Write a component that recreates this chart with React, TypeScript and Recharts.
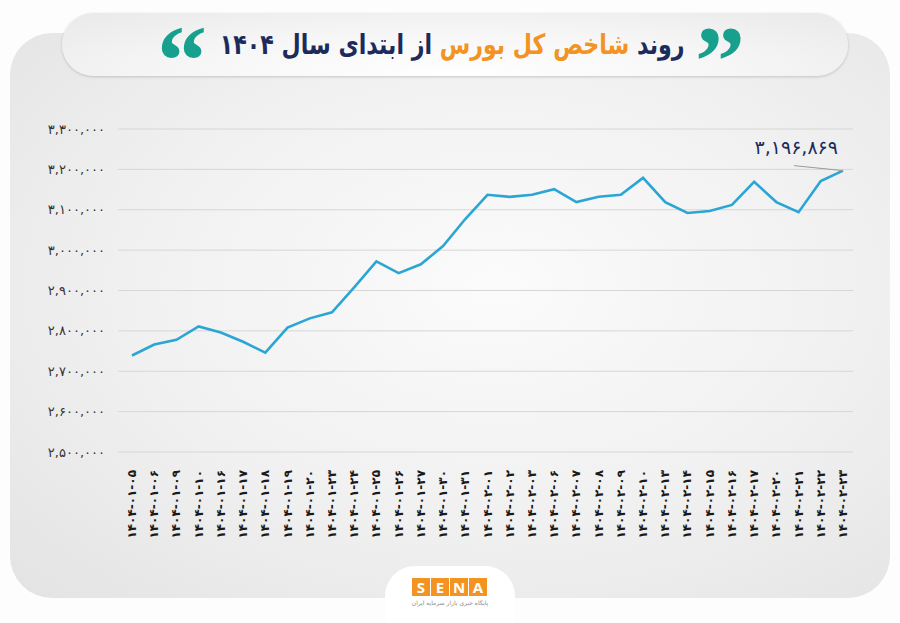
import React from 'react';
import { LineChart, Line, XAxis, YAxis, CartesianGrid } from 'recharts';

const dates: string[] = [
  '۱۴۰۴-۰۱-۰۵', '۱۴۰۴-۰۱-۰۶', '۱۴۰۴-۰۱-۰۹', '۱۴۰۴-۰۱-۱۰', '۱۴۰۴-۰۱-۱۶', '۱۴۰۴-۰۱-۱۷',
  '۱۴۰۴-۰۱-۱۸', '۱۴۰۴-۰۱-۱۹', '۱۴۰۴-۰۱-۲۰', '۱۴۰۴-۰۱-۲۳', '۱۴۰۴-۰۱-۲۴', '۱۴۰۴-۰۱-۲۵',
  '۱۴۰۴-۰۱-۲۶', '۱۴۰۴-۰۱-۲۷', '۱۴۰۴-۰۱-۳۰', '۱۴۰۴-۰۱-۳۱', '۱۴۰۴-۰۲-۰۱', '۱۴۰۴-۰۲-۰۲',
  '۱۴۰۴-۰۲-۰۳', '۱۴۰۴-۰۲-۰۶', '۱۴۰۴-۰۲-۰۷', '۱۴۰۴-۰۲-۰۸', '۱۴۰۴-۰۲-۰۹', '۱۴۰۴-۰۲-۱۰',
  '۱۴۰۴-۰۲-۱۳', '۱۴۰۴-۰۲-۱۴', '۱۴۰۴-۰۲-۱۵', '۱۴۰۴-۰۲-۱۶', '۱۴۰۴-۰۲-۱۷', '۱۴۰۴-۰۲-۲۰',
  '۱۴۰۴-۰۲-۲۱', '۱۴۰۴-۰۲-۲۲', '۱۴۰۴-۰۲-۲۳',
];

const indexValues: number[] = [
  2739000, 2766000, 2778000, 2811000, 2796000, 2773000,
  2746000, 2808000, 2831000, 2846000, 2908000, 2972000,
  2943000, 2965000, 3010000, 3077000, 3137000, 3132000,
  3137000, 3151000, 3119000, 3132000, 3137000, 3179000,
  3119000, 3092000, 3097000, 3112000, 3169000, 3119000,
  3094000, 3171000, 3196869,
];

const yTicks: number[] = [2500000, 2600000, 2700000, 2800000, 2900000, 3000000, 3100000, 3200000, 3300000];

const titleStart = 'روند ';
const titleHighlight = 'شاخص کل بورس';
const titleEnd = ' از ابتدای سال ۱۴۰۴';
const logoLetters = ['S', 'E', 'N', 'A'];
const logoCaption = 'پایگاه خبری بازار سرمایه ایران';

const faDigits = '۰۱۲۳۴۵۶۷۸۹';
const toFa = (s: string) => s.replace(/[0-9]/g, (d) => faDigits[Number(d)]);
const fmt = (n: number) => toFa(Math.round(n).toLocaleString('en-US'));

const data = dates.map((d, i) => ({ date: d, value: indexValues[i] }));

const FA_FONT = '"DejaVu Sans", sans-serif';

const XTick = (props: any) => {
  const { x, y, payload } = props;
  return (
    <text
      x={0}
      y={0}
      transform={`translate(${x},${y + 10}) rotate(-90)`}
      textAnchor="end"
      dominantBaseline="central"
      fontFamily={FA_FONT}
      fontSize={12}
      fontWeight="bold"
      fill="#1a1a1a"
    >
      {payload.value}
    </text>
  );
};

const LastLabel = (props: any) => {
  const { x, y, index } = props;
  if (index !== indexValues.length - 1) return null;
  return (
    <g>
      <line x1={x - 49} y1={y - 5} x2={x} y2={y} stroke="#9a9a9a" strokeWidth={1} />
      <text
        x={x - 5}
        y={y - 17}
        textAnchor="end"
        fontFamily={FA_FONT}
        fontSize={19}
        fill="#1c2b5c"
      >
        {fmt(indexValues[index])}
      </text>
    </g>
  );
};

const quoteStyle: React.CSSProperties = {
  position: 'absolute', top: 11, fontFamily: '"Liberation Serif", serif', fontWeight: 'bold',
  fontSize: 100, lineHeight: '100px', color: '#17a08d',
};

export default function App() {
  return (
    <div style={{ position: 'absolute', left: 0, top: 0, width: 900, height: 623, background: '#fdfdfd', overflow: 'hidden' }}>
      {/* main card */}
      <div
        style={{
          position: 'absolute', left: 10, top: 33, width: 880, height: 565, borderRadius: 42,
          background: 'radial-gradient(ellipse at 55% 45%, #fbfbfb 0%, #f0f0f0 55%, #e3e3e3 100%)',
        }}
      />
      {/* title pill */}
      <div
        style={{
          position: 'absolute', left: 62, top: 13, width: 786, height: 63, borderRadius: 32,
          background: 'radial-gradient(ellipse at 50% 100%, #ffffff 0%, #f6f6f6 50%, #e9e9e9 100%)',
          boxShadow: '0 1px 3px rgba(0,0,0,0.18)',
        }}
      />
      <div
        style={{
          position: 'absolute', left: 62, top: 13, width: 786, height: 63,
          display: 'flex', alignItems: 'center', justifyContent: 'center',
        }}
      >
        <div
          style={{
            direction: 'rtl', fontFamily: FA_FONT, fontWeight: 'bold', fontSize: 28, color: '#1c2b5c',
            whiteSpace: 'nowrap', transform: 'translateX(-3px) scaleX(0.79)',
          }}
        >
          <span>{titleStart}</span>
          <span style={{ color: '#f39322' }}>{titleHighlight}</span>
          <span>{titleEnd}</span>
        </div>
      </div>
      <div style={{ ...quoteStyle, left: 695 }}>”</div>
      <div style={{ ...quoteStyle, left: 157 }}>“</div>

      {/* bottom logo pill */}
      <div style={{ position: 'absolute', left: 385, top: 566, width: 130, height: 80, borderRadius: 30, background: '#ffffff' }} />
      <div style={{ position: 'absolute', left: 412, top: 578, display: 'flex', gap: 1 }}>
        {logoLetters.map((l) => (
          <div
            key={l}
            style={{
              width: 18, height: 18, background: '#f39322', color: '#fff', fontFamily: '"Open Sans", sans-serif',
              fontWeight: 'bold', fontSize: 15, lineHeight: '18px', textAlign: 'center',
            }}
          >
            {l}
          </div>
        ))}
      </div>
      <div style={{ position: 'absolute', left: 405, top: 599, width: 90, textAlign: 'center', fontFamily: FA_FONT, fontSize: 6, color: '#8a8a8a', direction: 'rtl' }}>
        {logoCaption}
      </div>

      {/* chart */}
      <div style={{ position: 'absolute', left: 0, top: 0 }}>
        <LineChart width={900} height={623} data={data} margin={{ top: 129, right: 47, bottom: 71, left: 8 }}>
          <CartesianGrid vertical={false} stroke="#d6d6d6" strokeWidth={1} />
          <XAxis
            dataKey="date"
            axisLine={false}
            tickLine={false}
            interval={0}
            height={100}
            padding={{ left: 14, right: 10 }}
            tick={<XTick />}
          />
          <YAxis
            domain={[2500000, 3300000]}
            ticks={yTicks}
            axisLine={false}
            tickLine={false}
            width={110}
            tickMargin={7}
            tickFormatter={fmt}
            tick={{ fontFamily: FA_FONT, fontSize: 13, fill: '#333333' }}
          />
          <Line
            type="linear"
            dataKey="value"
            stroke="#2ba6d4"
            strokeWidth={2.6}
            dot={false}
            isAnimationActive={false}
            label={<LastLabel />}
          />
        </LineChart>
      </div>
    </div>
  );
}
